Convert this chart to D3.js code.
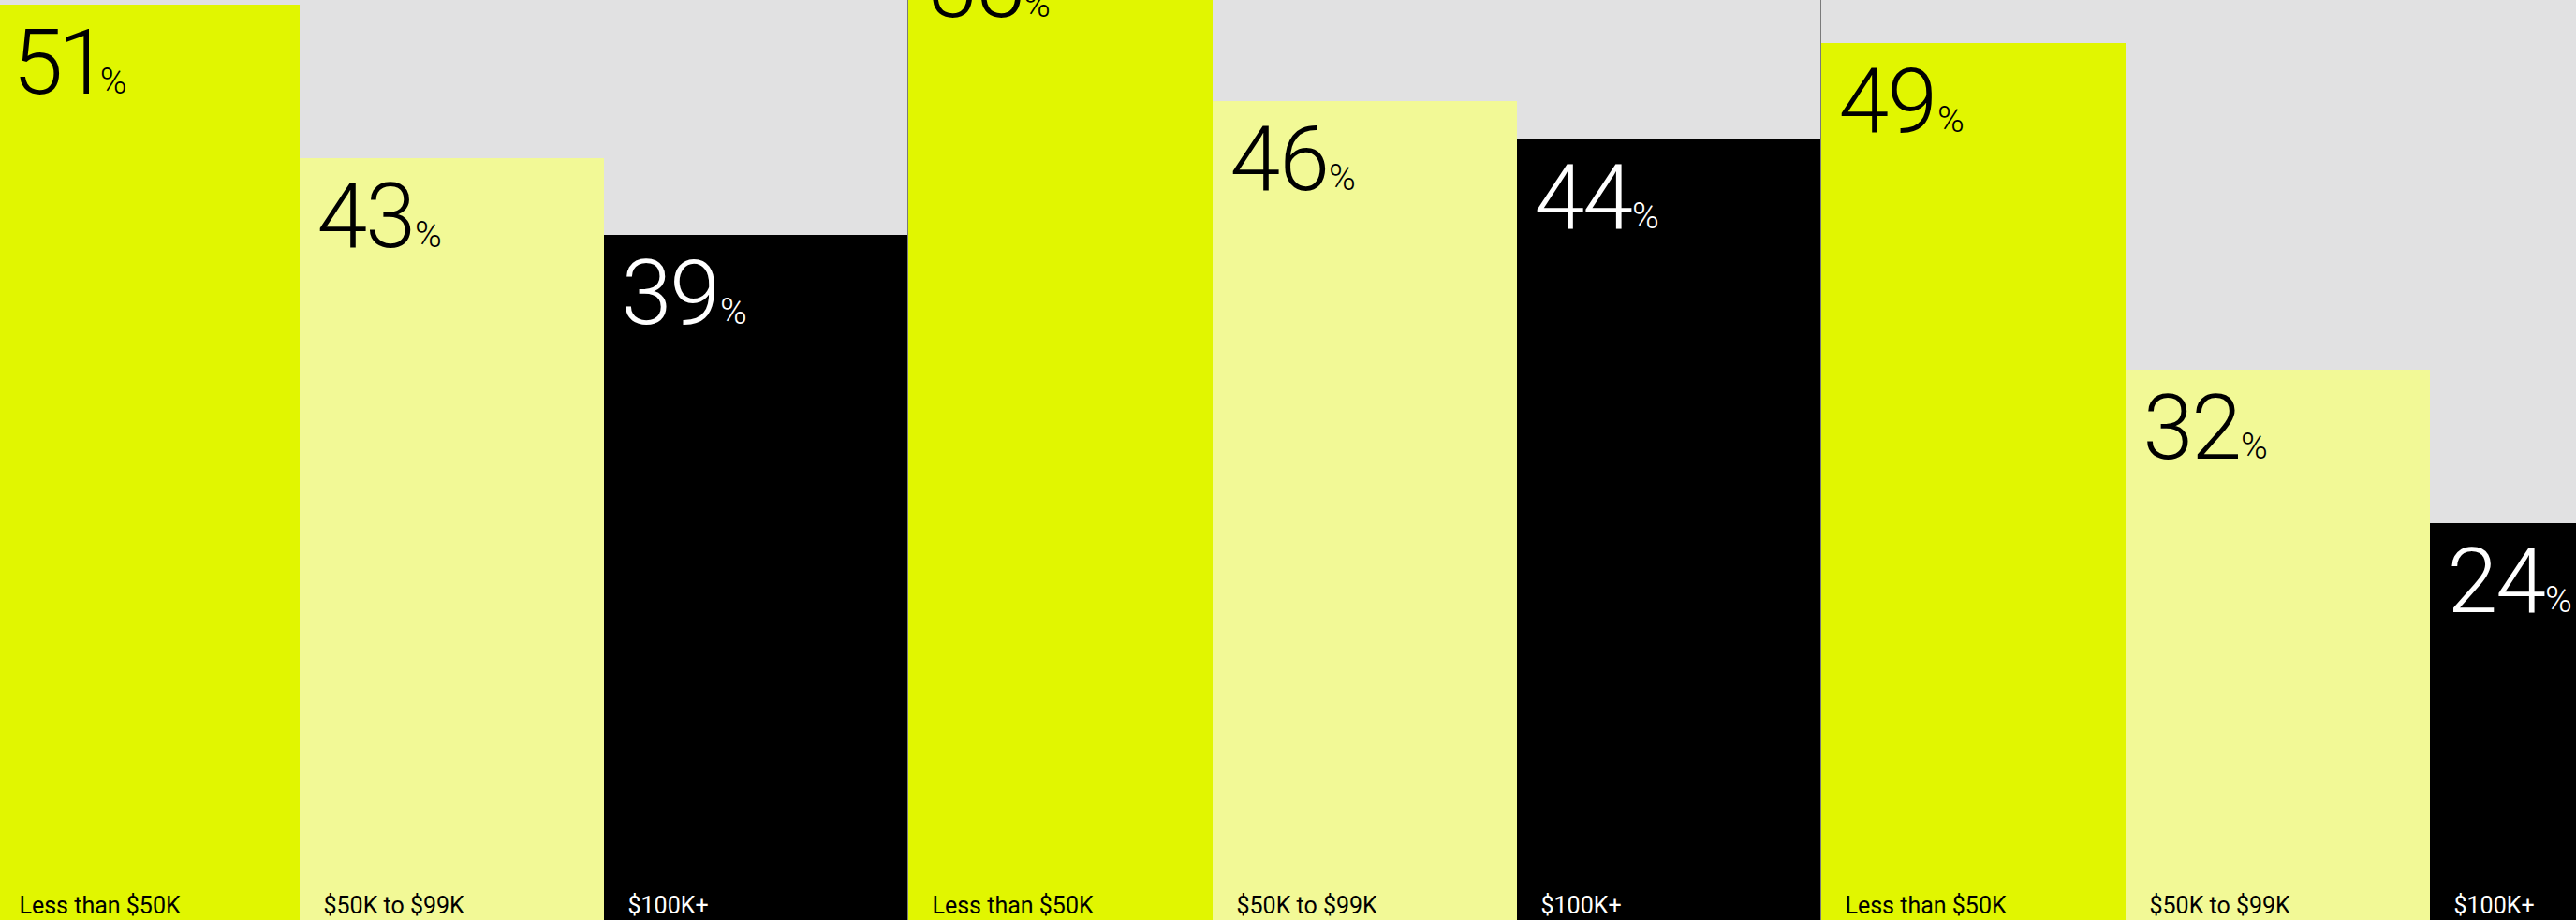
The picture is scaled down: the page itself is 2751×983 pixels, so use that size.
<!DOCTYPE html>
<html>
<head>
<meta charset="utf-8">
<script src="https://cdn.jsdelivr.net/npm/d3@7"></script>
<style>
  html, body { margin: 0; padding: 0; background: #e1e1e2; overflow: hidden; }
  svg { display: block; }
</style>
</head>
<body>
<svg id="chart"></svg>
<script>
// Income brackets shown in every panel, left to right
const incomeBrackets = ["Less than $50K", "$50K to $99K", "$100K+"];

// Share (%) per income bracket, one array per panel
const panelOneValues = [51, 43, 39];
const panelTwoValues = [55, 46, 44];
const panelThreeValues = [49, 32, 24];

const valueSuffix = "%";

const W = 2751, H = 983;

const svg = d3.select("#chart")
  .attr("width", W)
  .attr("height", H);

svg.append("rect")
  .attr("width", W)
  .attr("height", H)
  .attr("fill", "#e1e1e2");

const panelValues = [panelOneValues, panelTwoValues, panelThreeValues];
const rows = panelValues.flatMap((vals, p) =>
  vals.map((v, i) => ({ panel: p, bracket: incomeBrackets[i], value: v })));

// Panels sit side by side; the rightmost runs past the frame edge
const xPanel = d3.scaleBand()
  .domain(d3.range(panelValues.length))
  .range([-5.5, 2919.5])
  .padding(0);

const xBar = d3.scaleBand()
  .domain(incomeBrackets)
  .range([0, xPanel.bandwidth()])
  .padding(0);

// Baseline lies below the frame, so bars are cut off at the bottom
const y = d3.scaleLinear()
  .domain([0, 100])
  .range([1050.5, -999.5]);

const fill = d3.scaleOrdinal()
  .domain(incomeBrackets)
  .range(["#e1f600", "#f2f996", "#000000"]);

const ink = d3.scaleOrdinal()
  .domain(incomeBrackets)
  .range(["#000000", "#000000", "#ffffff"]);

const barX = d => xPanel(d.panel) + xBar(d.bracket);

const bars = svg.append("g").attr("class", "bars");
bars.selectAll("rect")
  .data(rows)
  .join("rect")
  .attr("x", barX)
  .attr("y", d => y(d.value))
  .attr("width", xBar.bandwidth())
  .attr("height", d => y(0) - y(d.value))
  .attr("fill", d => fill(d.bracket))
  .attr("shape-rendering", "crispEdges");

// Value labels: large figure with a small percent sign
const values = svg.append("g").attr("class", "values")
  .style("font-family", "Roboto, 'Helvetica Neue', Arial, sans-serif")
  .style("font-feature-settings", "'pnum' 1")
  .style("font-variant-numeric", "proportional-nums");

const vt = values.selectAll("text")
  .data(rows)
  .join("text")
  .attr("x", d => barX(d) + 19)
  .attr("y", d => y(d.value) + 95)
  .attr("fill", d => ink(d.bracket));

vt.append("tspan")
  .attr("font-size", 97)
  .attr("font-weight", 300)
  .attr("letter-spacing", -2)
  .text(d => d.value);

vt.append("tspan")
  .attr("font-size", 39)
  .attr("font-weight", 300)
  .attr("dx", 1)
  .text(valueSuffix);

// Bracket names along the bottom edge
svg.append("g").attr("class", "brackets")
  .style("font-family", "Roboto, 'Helvetica Neue', Arial, sans-serif")
  .selectAll("text")
  .data(rows)
  .join("text")
  .attr("x", d => barX(d) + 26)
  .attr("y", 976)
  .attr("font-size", 25)
  .attr("fill", d => ink(d.bracket))
  .text(d => d.bracket);

// Thin rules between panels
svg.append("g").attr("class", "dividers")
  .selectAll("line")
  .data(d3.range(1, panelValues.length))
  .join("line")
  .attr("x1", p => xPanel(p))
  .attr("x2", p => xPanel(p))
  .attr("y1", 0)
  .attr("y2", H)
  .attr("stroke", "#7a7a7a")
  .attr("stroke-width", 1);
</script>
</body>
</html>
